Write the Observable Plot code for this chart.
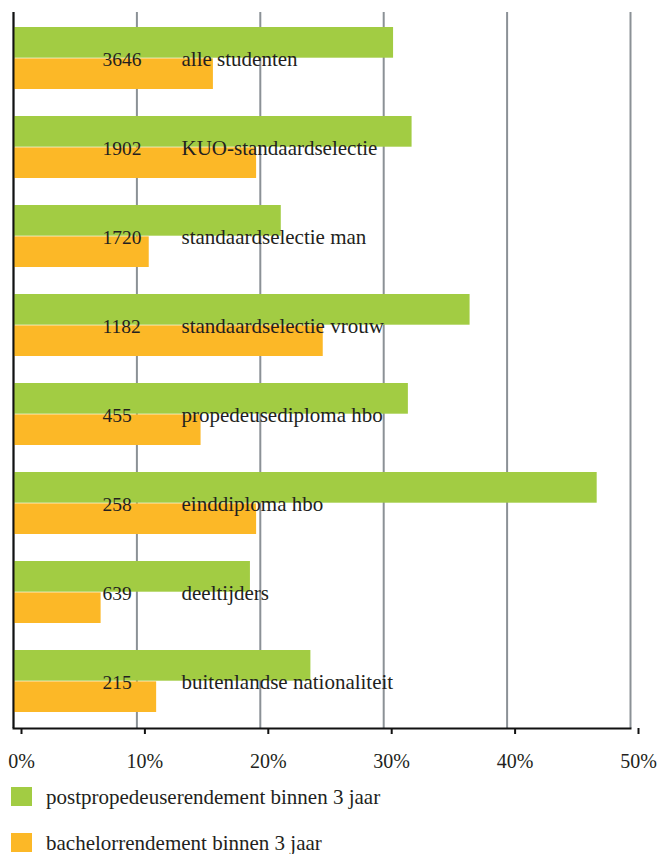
<!DOCTYPE html>
<html>
<head>
<meta charset="utf-8">
<script src="https://cdn.jsdelivr.net/npm/d3@7"></script>
<script src="https://cdn.jsdelivr.net/npm/@observablehq/plot@0.6"></script>
<style>
  html, body { margin: 0; padding: 0; background: #fff; }
  #wrap { position: relative; width: 660px; height: 854px; overflow: hidden; font-family: "Liberation Serif", serif; color: #231f20; }
  .sw { position: absolute; width: 21px; height: 19px; }
  .lt { position: absolute; font-size: 21px; line-height: 21px; white-space: nowrap; }
</style>
</head>
<body>
<div id="wrap"></div>
<script>
const categories = ["alle studenten", "KUO-standaardselectie", "standaardselectie man", "standaardselectie vrouw", "propedeusediploma hbo", "einddiploma hbo", "deeltijders", "buitenlandse nationaliteit"];
const counts = [3646, 1902, 1720, 1182, 455, 258, 639, 215];
const postprop = [30.8, 32.3, 21.7, 37.0, 32.0, 47.3, 19.2, 24.1];
const bachelor = [16.2, 19.7, 11.0, 25.1, 15.2, 19.7, 7.1, 11.6];
const xTicks = [0, 10, 20, 30, 40, 50];
const seriesNames = ["postpropedeuserendement binnen 3 jaar", "bachelorrendement binnen 3 jaar"];
const colors = ["#a2cc43", "#fcb827"];

const rows = categories.map((c, i) => ({cat: c, n: counts[i], post: postprop[i], bach: bachelor[i]}));

const half = 31.3;
const chart = Plot.plot({
  width: 660,
  height: 780,
  marginLeft: 13,
  marginRight: 30,
  marginTop: 12,
  marginBottom: 52,
  style: {fontFamily: "Liberation Serif", fontSize: "19px", color: "#231f20", background: "white"},
  x: {domain: [0, 50], ticks: xTicks},
  y: {domain: categories, paddingInner: 0.3, paddingOuter: 0.15, axis: null},
  marks: [
    Plot.gridX(xTicks, {stroke: "#8b9196", strokeOpacity: 1, strokeWidth: 2}),
    Plot.barX(rows, {x: "post", y: "cat", fill: colors[0], insetBottom: half}),
    Plot.barX(rows, {x: "bach", y: "cat", fill: colors[1], insetTop: 62.65 - half}),
    Plot.ruleX([0], {stroke: "#111", strokeWidth: 2}),
    Plot.frame({anchor: "bottom", stroke: "#111", strokeWidth: 2}),
    Plot.axisX(xTicks, {tickSize: 6, stroke: "#111", strokeWidth: 2, tickPadding: 19, tickFormat: d => d + "%", fontSize: 20, fill: "#231f20", dx: 8, label: null}),
    Plot.text(rows, {y: "cat", text: d => String(d.n), frameAnchor: "left", textAnchor: "start", dx: 89, dy: 1, fontSize: 19.5, fill: "#231f20"}),
    Plot.text(rows, {y: "cat", text: "cat", frameAnchor: "left", textAnchor: "start", dx: 168, dy: 1, fontSize: 21, fill: "#231f20"})
  ]
});

const wrap = document.getElementById("wrap");
wrap.appendChild(chart);

seriesNames.forEach((s, i) => {
  const top = 787 + i * 46;
  const sw = document.createElement("div");
  sw.className = "sw";
  sw.style.left = "11px";
  sw.style.top = top + "px";
  sw.style.background = colors[i];
  wrap.appendChild(sw);
  const t = document.createElement("div");
  t.className = "lt";
  t.style.left = "46px";
  t.style.top = (top + 0) + "px";
  t.textContent = s;
  wrap.appendChild(t);
});
</script>
</body>
</html>
